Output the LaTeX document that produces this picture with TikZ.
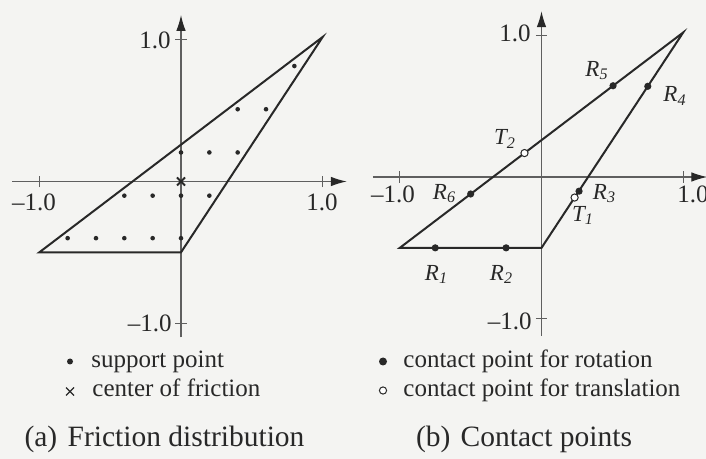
\documentclass[tikz,border=0pt]{standalone}
\usepackage{fontspec}
\setmainfont{Liberation Serif}
\usetikzlibrary{arrows.meta,shapes.misc}
\definecolor{bgc}{RGB}{244,244,242}
\definecolor{ink}{RGB}{40,40,40}
\definecolor{axc}{RGB}{95,95,95}
\begin{document}
\begin{tikzpicture}[x=0.5pt,y=-0.5pt,
  axisline/.style={draw=axc,line width=0.6pt},
  axarrow/.style={axisline,-{Latex[length=8pt,width=4.8pt,color=ink]}},
  polyline/.style={draw=ink,line width=1pt,line join=miter},
  sdot/.style={circle,fill=ink,inner sep=0pt,minimum size=2.3pt},
  rdot/.style={circle,fill=ink,inner sep=0pt,minimum size=3.6pt},
  tdot/.style={circle,draw=ink,fill=white,line width=0.5pt,inner sep=0pt,minimum size=3.6pt},
  cfmark/.style={cross out,draw=ink,line width=1pt,inner sep=0pt,minimum size=3pt},
  legcross/.style={cross out,draw=ink,line width=0.6pt,inner sep=0pt,minimum size=3.4pt},
  legdot/.style={circle,fill=ink,inner sep=0pt,minimum size=3pt},
  legrdot/.style={circle,fill=ink,inner sep=0pt,minimum size=4pt},
  legtdot/.style={circle,draw=ink,fill=white,line width=0.5pt,inner sep=0pt,minimum size=3.6pt},
  ticklbl/.style={text=ink,inner sep=0pt,font=\fontsize{12.5}{15}\selectfont},
  ptlbl/.style={text=ink,inner sep=0pt,font=\fontsize{11.5}{14}\selectfont\itshape},
  legtxt/.style={text=ink,inner sep=0pt,anchor=base west,font=\fontsize{12.5}{15}\selectfont},
  captxt/.style={text=ink,inner sep=0pt,anchor=base,font=\fontsize{14.75}{18}\selectfont},
]
\fill[bgc] (0,0) rectangle (706,459);
\useasboundingbox (0,0) rectangle (706,459);

% ---------------- panel (a) ----------------
\begin{scope}[shift={(181,181.5)},x=70.85pt,y=70.85pt]
  \coordinate (a-xl) at (-1.19,0);
  \coordinate (a-xr) at (1.17,0);
  \coordinate (a-yb) at (0,-1.1);
  \coordinate (a-yt) at (0,1.175);
  \draw[axarrow] (a-xl) -- (a-xr);
  \draw[axarrow] (a-yb) -- (a-yt);
  \foreach \t in {-1,1}{
    \draw[axisline] (\t,-0.04) -- (\t,0.04);
    \draw[axisline] (-0.04,\t) -- (0.04,\t);}
  \coordinate (a-p1) at (-1,-0.5);
  \coordinate (a-p2) at (0,-0.5);
  \coordinate (a-p3) at (1,1.02);
  \draw[polyline] (a-p1) -- (a-p2) -- (a-p3) -- cycle;
  \foreach \px/\py [count=\i] in {0.8/0.815, 0.4/0.51, 0.6/0.51,
      0/0.205, 0.2/0.205, 0.4/0.205,
      -0.4/-0.1, -0.2/-0.1, 0/-0.1, 0.2/-0.1,
      -0.8/-0.4, -0.6/-0.4, -0.4/-0.4, -0.2/-0.4, 0/-0.4}
    \node[sdot] (a-s\i) at (\px,\py) {};
  \node[cfmark] (a-cf) at (0,0) {};
\end{scope}

\node[ticklbl,anchor=east] (a-ytop) at (171,40.5) {1.0};
\node[ticklbl] (a-xneg) at (34,202) {–1.0};
\node[ticklbl] (a-xpos) at (322,202) {1.0};
\node[ticklbl,anchor=east] (a-ybot) at (172,323) {–1.0};

\node[legdot] (a-lm1) at (70,361.5) {};
\node[legtxt] (a-lt1) at (91,367) {support point};
\node[legcross] (a-lm2) at (70,391.5) {};
\node[legtxt] (a-lt2) at (92,396) {center of friction};
\node[captxt] (a-cap) at (164.5,446) {(a)\hspace{0.35em}Friction distribution};

% ---------------- panel (b) ----------------
\begin{scope}[shift={(541.5,177)},x=70.85pt,y=70.85pt]
  \coordinate (b-xl) at (-1.19,0);
  \coordinate (b-xr) at (1.17,0);
  \coordinate (b-yb) at (0,-1.12);
  \coordinate (b-yt) at (0,1.17);
  \draw[axarrow] (b-xl) -- (b-xr);
  \draw[axarrow] (b-yb) -- (b-yt);
  \foreach \t in {-1,1}{
    \draw[axisline] (\t,-0.04) -- (\t,0.04);
    \draw[axisline] (-0.04,\t) -- (0.04,\t);}
  \coordinate (b-p1) at (-1,-0.5);
  \coordinate (b-p2) at (0,-0.5);
  \coordinate (b-p3) at (1,1.02);
  \draw[polyline] (b-p1) -- (b-p2) -- (b-p3) -- cycle;
  \node[rdot] (b-r1) at (-0.75,-0.5) {};
  \node[rdot] (b-r2) at (-0.25,-0.5) {};
  \node[rdot] (b-r3) at (0.265,-0.1) {};
  \node[rdot] (b-r4) at (0.75,0.64) {};
  \node[rdot] (b-r5) at (0.505,0.644) {};
  \node[rdot] (b-r6) at (-0.5,-0.12) {};
  \node[tdot] (b-t1) at (0.2336,-0.145) {};
  \node[tdot] (b-t2) at (-0.12,0.169) {};
\end{scope}

\node[ticklbl,anchor=east] (b-ytop) at (531,33.5) {1.0};
\node[ticklbl] (b-xneg) at (393,194) {–1.0};
\node[ticklbl] (b-xpos) at (693,194) {1.0};
\node[ticklbl,anchor=east] (b-ybot) at (532,321.5) {–1.0};

\node[ptlbl] (b-lr5) at (597,70.5) {R\textsubscript{5}};
\node[ptlbl] (b-lr4) at (675,96) {R\textsubscript{4}};
\node[ptlbl] (b-lt2) at (505,139) {T\textsubscript{2}};
\node[ptlbl] (b-lr6) at (444.5,193.5) {R\textsubscript{6}};
\node[ptlbl] (b-lr3) at (604.5,193.5) {R\textsubscript{3}};
\node[ptlbl] (b-lt1) at (583,215.5) {T\textsubscript{1}};
\node[ptlbl] (b-lr1) at (436.5,274.5) {R\textsubscript{1}};
\node[ptlbl] (b-lr2) at (501.5,274.5) {R\textsubscript{2}};

\node[legrdot] (b-lm1) at (383,361.5) {};
\node[legtxt] (b-lt1x) at (403,367) {contact point for rotation};
\node[legtdot] (b-lm2) at (383,390.5) {};
\node[legtxt] (b-lt2x) at (403,396) {contact point for translation};
\node[captxt] (b-cap) at (524,446) {(b)\hspace{0.35em}Contact points};
\end{tikzpicture}
\end{document}
